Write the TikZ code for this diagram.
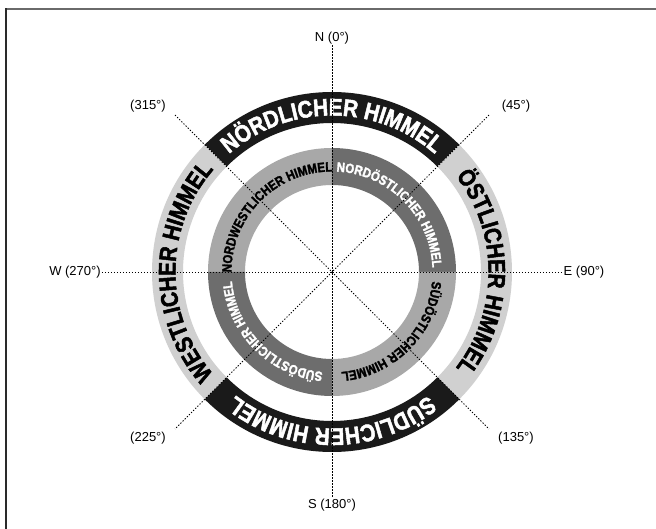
\documentclass[tikz,border=0pt]{standalone}
\usepackage{fontspec}
\setmainfont{Liberation Sans}
\newfontfamily\heavyfont{Liberation Sans}[FakeStretch=0.86,FakeBold=2]
\usetikzlibrary{decorations.text}
\definecolor{bandblack}{HTML}{1A1A1A}
\definecolor{outergray}{HTML}{D0D0D0}
\definecolor{innerlight}{HTML}{A8A8A8}
\definecolor{innerdark}{HTML}{6D6D6D}
\definecolor{frametop}{HTML}{6A6A6A}
\definecolor{frameleft}{HTML}{2A2A2A}
\newcommand\bigring{\heavyfont\bfseries\fontsize{24}{24}\selectfont}
\newcommand\smallring{\heavyfont\bfseries\fontsize{13.4}{13.4}\selectfont}
\newcommand\annsec[5]{\fill[#1] (#2:#4) arc[start angle=#2,end angle=#3,radius=#4] -- (#3:#5) arc[start angle=#3,end angle=#2,radius=#5] -- cycle;}
\tikzset{
  guide/.style={line width=0.8pt, dash pattern=on 1.3pt off 1.7pt, black},
  lab/.style={font=\fontsize{13}{13}\selectfont, inner sep=1pt},
  ringtext/.style={decorate, decoration={text along path, text align=center, text color=#1}},
}
\begin{document}
\begin{tikzpicture}[x=1pt,y=1pt]
\useasboundingbox (-332,-257) rectangle (324,272);
% frame
\draw[frametop, line width=1.6pt] (-326,263) -- (324,263);
\draw[frameleft, line width=1.6pt] (-326,263.8) -- (-326,-257);
% outer ring
\annsec{bandblack}{45}{135}{149}{180}
\annsec{outergray}{-45}{45}{149}{180}
\annsec{bandblack}{-135}{-45}{149}{180}
\annsec{outergray}{135}{225}{149}{180}
% inner ring
\annsec{innerlight}{90}{180}{87}{124}
\annsec{innerdark}{0}{90}{87}{124}
\annsec{innerlight}{-90}{0}{87}{124}
\annsec{innerdark}{-180}{-90}{87}{124}
% outer texts
\path[ringtext=white, decoration={text={|\bigring|NÖRDLICHER HIMMEL}}] (135:156.5) arc[start angle=135,end angle=45,radius=156.5];
\path[ringtext=black, decoration={text={|\bigring|ÖSTLICHER HIMMEL}}] (45:156.5) arc[start angle=45,end angle=-45,radius=156.5];
\path[ringtext=white, decoration={text={|\bigring|SÜDLICHER HIMMEL}}] (-45:156.5) arc[start angle=-45,end angle=-135,radius=156.5];
\path[ringtext=black, decoration={text={|\bigring|WESTLICHER HIMMEL}}] (225:156.5) arc[start angle=225,end angle=135,radius=156.5];
% inner texts
\path[ringtext=black, decoration={text={|\smallring|NORDWESTLICHER HIMMEL}}] (180:100.5) arc[start angle=180,end angle=90,radius=100.5];
\path[ringtext=white, decoration={text={|\smallring|NORDÖSTLICHER HIMMEL}}] (90:100.5) arc[start angle=90,end angle=0,radius=100.5];
\path[ringtext=black, decoration={text={|\smallring|SÜDÖSTLICHER HIMMEL}}] (0:100.5) arc[start angle=0,end angle=-90,radius=100.5];
\path[ringtext=white, decoration={text={|\smallring|SÜDÖSTLICHER HIMMEL}}] (-90:100.5) arc[start angle=-90,end angle=-180,radius=100.5];
% labels
\node[lab] (n) at (0,234) {N (0°)};
\node[lab] (s) at (0,-233) {S (180°)};
\node[lab] (w) at (-257,0) {W (270°)};
\node[lab] (e) at (252,0) {E (90°)};
\node[lab] (l315) at (-184,166) {(315°)};
\node[lab] (l45) at (184,166) {(45°)};
\node[lab] (l225) at (-184,-166) {(225°)};
\node[lab] (l135) at (184,-166) {(135°)};
\coordinate (d315) at (135:222);
\coordinate (d45) at (45:222);
\coordinate (d225) at (225:222);
\coordinate (d135) at (-45:222);
% guides
\draw[guide] (n.south) -- (s.north);
\draw[guide] (w.east) -- (e.west);
\draw[guide] (d315) -- (d135);
\draw[guide] (d45) -- (d225);
\end{tikzpicture}
\end{document}
